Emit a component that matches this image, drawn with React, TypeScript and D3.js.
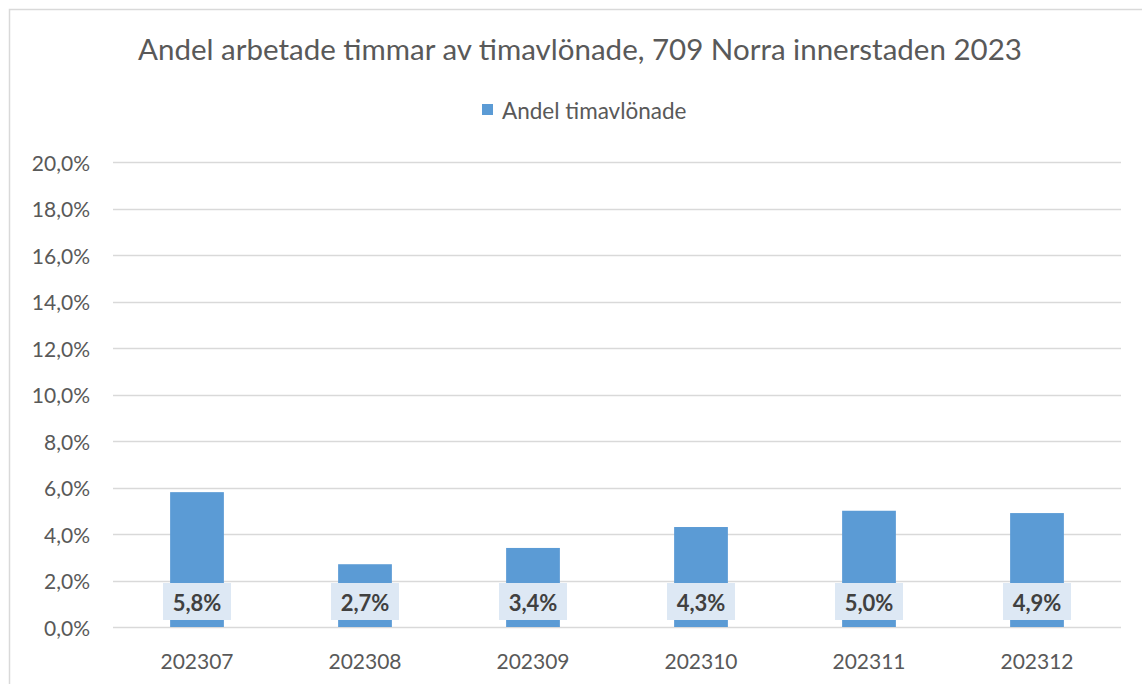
import React from "react";
import * as d3 from "d3";

const categories = ["202307", "202308", "202309", "202310", "202311", "202312"];
const values = [0.058, 0.027, 0.034, 0.043, 0.05, 0.049];
const yTicks = [0, 0.02, 0.04, 0.06, 0.08, 0.1, 0.12, 0.14, 0.16, 0.18, 0.2];
const title = "Andel arbetade timmar av timavlönade, 709 Norra innerstaden 2023";
const seriesName = "Andel timavlönade";

const fmt = (v: number) => (v * 100).toFixed(1).replace(".", ",") + "%";

export default function App() {
  const W = 1142, H = 684;
  const font = "Lato, 'Open Sans', sans-serif";
  const y = d3.scaleLinear().domain([0, 0.2]).range([627, 162]);
  const x = d3.scaleBand<string>().domain(categories).range([113, 1121]).paddingInner(0.68).paddingOuter(0.34);
  const bw = x.bandwidth();
  return (
    <svg width={W} height={H} style={{ position: "absolute", left: 0, top: 0, background: "#fff" }}>
      <rect x={9.5} y={9.5} width={1200} height={800} fill="#fff" stroke="#d9d9d9" strokeWidth={1.5} />
      <text x={580} y={48} textAnchor="middle" dominantBaseline="central" fontFamily={font} fontSize={29.5} fill="#595959">{title}</text>
      <rect x={482} y={104} width={11} height={11} fill="#5b9bd5" />
      <text x={502} y={110} dominantBaseline="central" fontFamily={font} fontSize={22.5} fill="#595959">{seriesName}</text>
      {yTicks.map((t) => (
        <g key={t}>
          <line x1={113} x2={1121} y1={Math.round(y(t)) + 0.5} y2={Math.round(y(t)) + 0.5} stroke="#d9d9d9" strokeWidth={1.5} />
          <text x={90} y={y(t)} textAnchor="end" dominantBaseline="central" fontFamily={font} fontSize={21} fill="#595959">{fmt(t)}</text>
        </g>
      ))}
      {categories.map((c, i) => {
        const cx = (x(c) as number) + bw / 2;
        return (
          <g key={c}>
            <rect x={x(c)} y={y(values[i])} width={bw} height={y(0) - y(values[i])} fill="#5b9bd5" />
            <rect x={cx - 34} y={583} width={68} height={37} fill="#dde8f4" />
            <text x={cx} y={602} textAnchor="middle" dominantBaseline="central" fontFamily={font} fontSize={22} fontWeight="bold" fill="#404040">{fmt(values[i])}</text>
            <text x={cx} y={660} textAnchor="middle" dominantBaseline="central" fontFamily={font} fontSize={21} fill="#595959">{c}</text>
          </g>
        );
      })}
    </svg>
  );
}
